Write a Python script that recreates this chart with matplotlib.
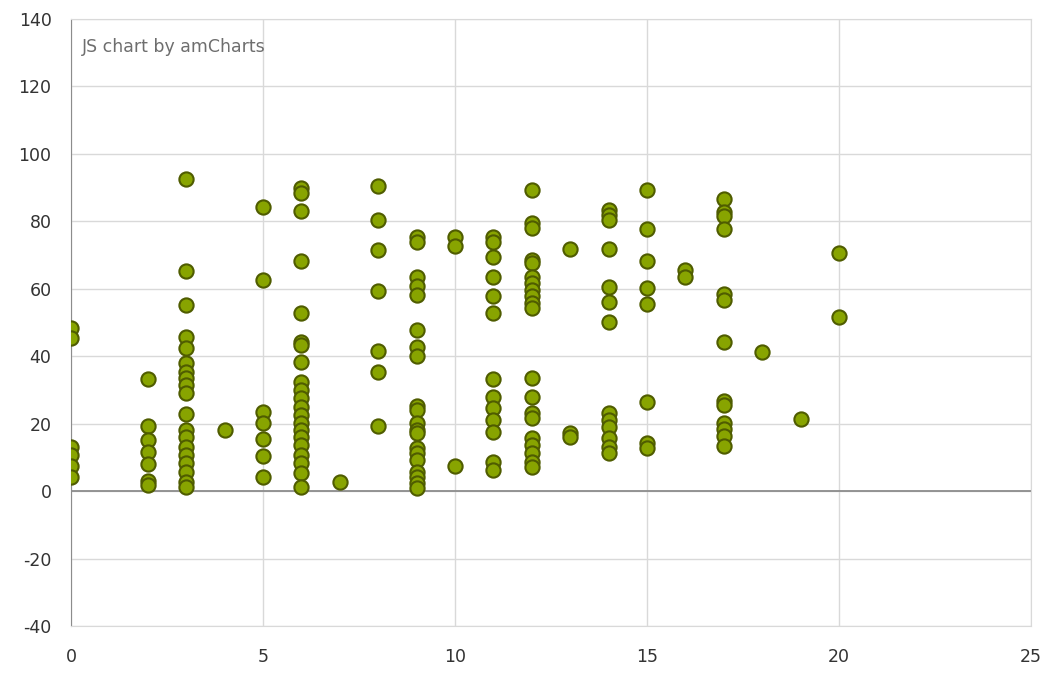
import matplotlib.pyplot as plt
import numpy as np

plt.rcParams['axes.unicode_minus'] = False

# x positions and y values, one list per column
x_vals = [0, 2, 3, 4, 5, 6, 7, 8, 9, 10, 11, 12, 13, 14, 15, 16, 17, 18, 19, 20]
y_vals = [
    [48.4, 45.4, 13, 10.7, 7.4, 4.2],
    [33.2, 19.3, 15.1, 11.6, 8, 3, 1.8],
    [92.5, 65.2, 55.2, 45.7, 42.4, 38, 35.3, 33.5, 31.4, 29, 23, 18, 16, 13, 10.7, 8.3, 5.6, 2.7, 1.2],
    [18],
    [84.3, 62.6, 23.4, 20.2, 15.4, 10.4, 4.2],
    [89.9, 88.4, 83, 68.2, 52.8, 44.2, 43.3, 38.3, 32.3, 30, 27.6, 25, 22.5, 20.2, 18, 16, 13.7, 10.7, 8.3, 5.3, 1.2],
    [2.6],
    [90.5, 80.4, 71.5, 59.3, 41.5, 35.3, 19.3],
    [75.3, 73.9, 63.5, 60.8, 58.1, 47.8, 42.7, 40, 25.2, 24, 20.2, 18, 17.2, 12.8, 11.3, 9.2, 5.6, 4.2, 2.4, 0.9],
    [75.3, 72.7, 7.4],
    [75.3, 74, 69.4, 63.5, 57.8, 52.8, 33.2, 27.9, 24.6, 21, 17.5, 8.6, 6.2],
    [89.3, 79.5, 78, 68.5, 67.6, 63.5, 61.7, 59.6, 57.8, 55.8, 54.3, 33.5, 27.9, 23.1, 21.7, 15.7, 13.7, 11.3, 8.6, 7.1],
    [71.8, 17.2, 16],
    [83.4, 81.9, 80.4, 71.8, 60.5, 56.1, 50.1, 23.1, 21, 19, 15.7, 13, 11.3],
    [89.3, 77.7, 68.2, 60.2, 55.5, 26.4, 14.2, 12.8],
    [65.6, 63.5],
    [86.6, 82.8, 81.6, 77.7, 58.4, 56.7, 44.2, 26.7, 25.5, 20.2, 18.4, 16.3, 13.3],
    [41.2],
    [21.4],
    [70.6, 51.6],
]

xs = np.concatenate([[x] * len(ys) for x, ys in zip(x_vals, y_vals)])
ys = np.concatenate(y_vals)

fig = plt.figure(figsize=(10.47, 6.75), dpi=100)
ax = fig.add_axes([71 / 1047, 1 - 626 / 675, 960 / 1047, 607 / 675])

ax.set_xlim(0, 25)
ax.set_ylim(-40, 140)
ax.set_xticks(np.arange(0, 26, 5))
ax.set_yticks(np.arange(-40, 141, 20))

ax.grid(True, color='#d9d9d9', linewidth=1)
ax.set_axisbelow(True)
ax.axhline(0, color='#8c8c8c', linewidth=1.3, zorder=1)

for side in ['top', 'right', 'bottom']:
    ax.spines[side].set_color('#d9d9d9')
ax.spines['left'].set_color('#8c8c8c')

ax.tick_params(length=0, labelsize=12.5, labelcolor='#333333')
ax.tick_params(axis='x', pad=16)
ax.tick_params(axis='y', pad=14)

ax.scatter(xs, ys, s=105, color='#88a400', edgecolors='#4f5c00',
           linewidths=1.5, zorder=3)

ax.text(0.011, 0.968, 'JS chart by amCharts', transform=ax.transAxes,
        fontsize=12.5, color='#6e6e6e', ha='left', va='top')

fig.savefig('out.png', dpi=100)
